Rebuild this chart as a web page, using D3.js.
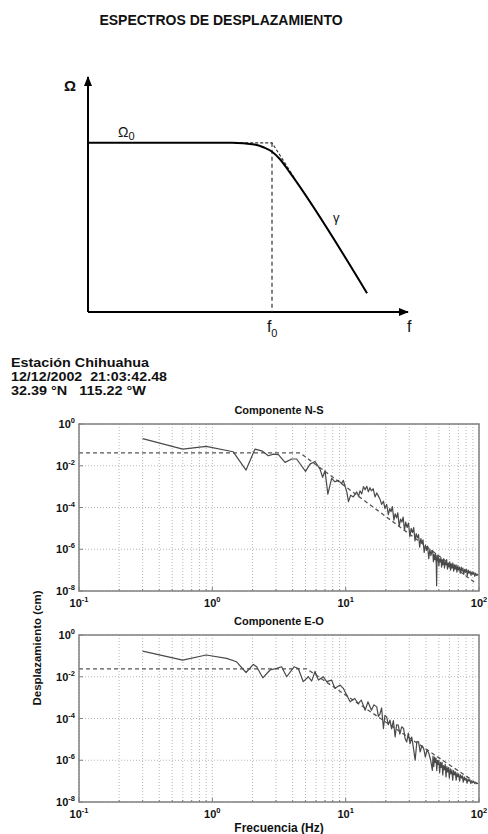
<!DOCTYPE html>
<html><head><meta charset="utf-8">
<script src="https://cdn.jsdelivr.net/npm/d3@7"></script>
<style>
body{margin:0;background:#fff}
svg{display:block}
text{font-family:"Liberation Sans",Arial,Helvetica,sans-serif;fill:#111}
</style>
</head><body>
<svg id="c" width="488" height="834"></svg>
<script>
// ---------------- DATA ----------------
const titleText = "ESPECTROS DE DESPLAZAMIENTO";
const stationLines = ["Estación Chihuahua", "12/12/2002  21:03:42.48", "32.39 °N   115.22 °W"];
const panelTitles = ["Componente N-S", "Componente E-O"];
const xTickValues = [0.1, 1, 10, 100];
const xTickExps = ["-1", "0", "1", "2"];
const yTickValues = [1, 1e-2, 1e-4, 1e-6, 1e-8];
const yTickExps = ["0", "-2", "-4", "-6", "-8"];
const xAxisLabel = "Frecuencia (Hz)";
const yAxisLabel = "Desplazamiento (cm)";

// Componente N-S : [frecuencia Hz, desplazamiento cm]
const nsSpectrum = [
[0.3,0.2],[0.6,0.063],[0.9,0.085],[1.43,0.047],[1.79,0.0062],[2.09,0.063],[2.35,0.052],[2.63,0.030],
[2.87,0.036],[3.13,0.034],[3.51,0.0145],[3.94,0.021],[4.29,0.021],[5.0,0.0054],[5.4,0.012],[5.89,0.016],
[6.42,0.0069],[6.72,0.0028],[7.0,0.0058],[7.35,4.4e-4],[7.85,0.0025],[8.32,0.0017],[8.81,0.002],[9.33,0.0014],
[9.6,0.002],[10.2,5.6e-4],[10.5,1.9e-4],[10.9,3.9e-4],[11.4,3.2e-4],[12.1,5.6e-4],[12.5,3.5e-4],[12.8,6.3e-4],
[13.2,4.5e-4],[13.6,1.0e-3],[14.0,7.1e-4],[14.4,1.05e-3],[14.8,5.6e-4],[15.2,8.9e-4],[15.6,6.3e-4],[16.1,7.9e-4],
[16.6,3.2e-4],[17.1,5.0e-4],[17.6,3.5e-4],[18.1,2.5e-4],[18.6,1.4e-4],[19.2,2.0e-4],[19.7,8.9e-5],
[20.3,1.4e-4],[20.9,4.5e-5],[21.4,8.9e-5],[21.9,6.3e-5],[22.4,1.1e-4],[23.0,2.5e-5],[23.5,5.0e-5],[24.1,3.2e-5],
[24.6,5.6e-5],[25.2,1.26e-5],[25.8,2.8e-5],[26.4,2.0e-5],[27.0,3.5e-5],[27.6,7.9e-6],[28.2,2.0e-5],[28.9,1.1e-5],
[29.6,1.8e-5],[30.3,4.0e-6],[31.0,1.0e-5],[31.7,6.3e-6],[32.4,1.1e-5],[33.1,2.5e-6],[33.8,5.6e-6],[34.5,3.5e-6],
[35.2,5.0e-6],[35.9,1.26e-6],[36.6,3.2e-6],[37.3,2.0e-6],[38.0,2.8e-6],[38.8,7.1e-7],[39.6,1.6e-6],[40.4,8.9e-7],
[41.2,1.4e-6],[42.0,3.5e-7],[42.8,1.0e-6],[43.6,5.0e-7],[44.4,8.9e-7],
[45.0,7.9e-7],[45.5,2.5e-7],[46.0,5.6e-7],[46.6,3.2e-7],[47.2,6.3e-7],[47.8,2.0e-7],[48.1,1.8e-8],[48.5,5.0e-7],
[49.0,2.8e-7],[49.5,4.5e-7],[50.0,1.6e-7],[50.6,3.5e-7],[51.2,2.5e-7],[51.8,4.0e-7],[52.4,1.4e-7],[53.0,3.2e-7],
[53.7,1.8e-7],[54.4,3.5e-7],[55.1,1.26e-7],[55.8,2.5e-7],[56.5,1.8e-7],[57.2,3.2e-7],[58.0,1.1e-7],[58.8,2.2e-7],
[59.6,1.4e-7],[60.4,2.5e-7],[61.2,1.0e-7],[62.0,2.0e-7],[62.8,1.26e-7],[63.7,2.2e-7],[64.6,8.9e-8],[65.5,1.8e-7],
[66.4,1.1e-7],[67.3,1.8e-7],[68.3,7.9e-8],[69.3,1.6e-7],[70.3,1.0e-7],[71.3,1.4e-7],[72.4,7.1e-8],[73.5,1.4e-7],
[74.6,8.9e-8],[75.7,1.26e-7],[76.9,6.3e-8],[78.1,1.1e-7],[79.3,7.9e-8],[80.5,1.1e-7],[81.8,5.6e-8],[83.1,1.0e-7],
[84.4,7.1e-8],[85.7,8.9e-8],[87.1,5.6e-8],[88.5,8.3e-8],[89.9,6.3e-8],[91.4,7.9e-8],[92.9,5.0e-8],[94.4,7.1e-8],
[96.0,5.6e-8],[97.6,6.3e-8],[98.9,5.6e-8]
];
// Modelo (línea discontinua) N-S
const nsModel = [[0.1,0.041],[4.55,0.041],[92,2.7e-8]];

// Componente E-O
const eoSpectrum = [
[0.3,0.17],[0.6,0.063],[0.9,0.11],[1.28,0.076],[1.52,0.052],[1.79,0.016],[2.03,0.039],[2.15,0.030],
[2.39,0.0089],[2.71,0.021],[3.04,0.025],[3.31,0.030],[3.61,0.010],[4.1,0.030],[4.41,0.025],[4.81,0.0058],
[5.25,0.010],[5.56,0.0062],[5.89,0.018],[6.25,0.0069],[6.8,0.010],[7.2,0.0058],[7.85,0.0069],[8.3,0.0028],
[9.1,0.004],[9.6,0.0028],[10.2,0.0013],[10.8,6.3e-4],[11.7,9.1e-4],[12.4,5.2e-4],[13.1,7.6e-4],[14.0,2.5e-4],
[14.7,6.3e-4],[15.6,2.5e-4],[16.3,4.5e-4],[17.1,3.6e-4],[17.6,1.26e-4],[18.1,1.7e-4],[18.6,3.2e-4],[19.2,3.3e-5],
[19.7,1.4e-4],[20.3,1.2e-4],[20.9,5.0e-5],[21.5,8.3e-5],[22.1,3.2e-5],[22.8,7.9e-5],[23.5,1.3e-5],[24.1,5.0e-5],
[24.8,4.8e-5],[25.5,1.8e-5],[26.3,4.0e-5],[27.2,3.3e-5],[27.9,1.1e-5],[28.7,7.6e-6],[29.5,2.0e-5],[30.4,6.3e-6],
[31.3,1.3e-5],[32.2,4.0e-6],[33.2,1.0e-6],[34.2,7.9e-6],[35.2,7.6e-6],[36.2,2.5e-6],[37.3,5.0e-6],[38.5,3.6e-6],
[39.6,1.4e-6],[40.8,3.2e-6],[42.1,2.1e-6],[43.4,1.0e-6],[44.7,3.3e-7],
[45.2,1.6e-6],[45.8,5.0e-7],[46.4,1.4e-6],[47.0,7.9e-7],[47.6,1.26e-6],[48.2,3.2e-7],[48.8,1.0e-6],[49.4,6.3e-7],
[50.0,1.0e-6],[50.7,2.5e-7],[51.4,7.9e-7],[52.1,4.5e-7],[52.8,7.9e-7],[53.5,2.0e-7],[54.2,5.6e-7],[55.0,3.5e-7],
[55.8,6.3e-7],[56.6,1.6e-7],[57.4,5.0e-7],[58.2,2.8e-7],[59.0,4.5e-7],[59.9,1.4e-7],[60.8,4.0e-7],[61.7,2.2e-7],
[62.6,3.5e-7],[63.5,1.1e-7],[64.4,3.2e-7],[65.4,2.0e-7],[66.4,2.8e-7],[67.4,1.1e-7],[68.4,2.5e-7],[69.4,1.6e-7],
[70.5,2.2e-7],[71.6,1.0e-7],[72.7,2.0e-7],[73.8,1.4e-7],[75.0,1.8e-7],[76.2,8.9e-8],[77.4,1.6e-7],[78.7,1.1e-7],
[80.0,1.4e-7],[81.3,7.9e-8],[82.6,1.26e-7],[84.0,1.0e-7],[85.4,1.2e-7],[86.8,7.6e-8],[88.3,1.05e-7],[89.8,8.3e-8],
[91.3,1.0e-7],[92.9,7.6e-8],[94.5,8.9e-8],[96.1,7.6e-8],[97.7,7.9e-8],[98.9,7.6e-8]
];
const eoModel = [[0.1,0.024],[5.1,0.024],[85,1.35e-7]];

// Esquema (unidades arbitrarias log-log)
const schemeCurve = [[0,7.2],[4.5,7.2],[5.2,7.13],[5.5,7.0],[5.75,6.82],[6.0,6.5],[6.3,5.95],[8.72,0.8]];
const schemeAsymptote = [[4.6,7.2],[5.75,7.2],[6.45,5.7]];
const schemeCorner = [[5.75,7.2],[5.75,0]];
const schemeXAxis = [[0,0],[10,0]];
const schemeYAxis = [[0,0],[0,10]];

// ---------------- DRAW ----------------
const svg = d3.select("#c");
const defs = svg.append("defs");
defs.append("marker").attr("id","arr").attr("viewBox","0 0 10 8")
  .attr("refX",9).attr("refY",4).attr("markerWidth",10).attr("markerHeight",8)
  .attr("markerUnits","userSpaceOnUse").attr("orient","auto")
  .append("path").attr("d","M0,0L10,4L0,8Z").attr("fill","#000");

// Title
svg.append("text").attr("x",221).attr("y",25).attr("text-anchor","middle")
  .style("font-weight","bold").style("font-size","14px").text(titleText);

// Scheme
const sx = d3.scaleLinear().domain([0,10]).range([88,408]);
const sy = d3.scaleLinear().domain([0,10]).range([312,77]);
const sline = d3.line().x(d=>sx(d[0])).y(d=>sy(d[1]));
const scheme = svg.append("g");
scheme.append("path").attr("d",sline(schemeXAxis)).attr("stroke","#000").attr("stroke-width",2).attr("fill","none").attr("marker-end","url(#arr)");
scheme.append("path").attr("d",sline(schemeYAxis)).attr("stroke","#000").attr("stroke-width",2).attr("fill","none").attr("marker-end","url(#arr)");
scheme.append("path").attr("d",sline(schemeCorner)).attr("stroke","#333").attr("stroke-width",1.2).attr("stroke-dasharray","4,3").attr("fill","none");
scheme.append("path").attr("d",sline(schemeAsymptote)).attr("stroke","#333").attr("stroke-width",1.2).attr("stroke-dasharray","3,2").attr("fill","none");
scheme.append("path").attr("d",d3.line().x(d=>sx(d[0])).y(d=>sy(d[1])).curve(d3.curveMonotoneX)(schemeCurve))
  .attr("stroke","#000").attr("stroke-width",2).attr("fill","none");
scheme.append("text").attr("x",sx(-0.56)).attr("y",sy(9.4)).attr("text-anchor","middle").style("font-size","15px").style("font-weight","bold").text("Ω");
const o0 = scheme.append("text").attr("x",sx(0.94)).attr("y",sy(7.45)).style("font-size","14px");
o0.append("tspan").text("Ω"); o0.append("tspan").attr("dy",3).style("font-size","11px").text("0");
scheme.append("text").attr("x",sx(7.66)).attr("y",sy(3.85)).style("font-size","13px").text("γ");
const f0 = scheme.append("text").attr("x",sx(5.59)).attr("y",sy(-0.85)).style("font-size","16px");
f0.append("tspan").text("f"); f0.append("tspan").attr("dy",5).style("font-size","11px").text("0");
scheme.append("text").attr("x",sx(9.97)).attr("y",sy(-0.85)).style("font-size","16px").text("f");

// Station info
const stWidths = [138,156,135];
stationLines.forEach((s,i)=>{
  svg.append("text").attr("x",11).attr("y",367+i*13.8).style("font-weight","bold").style("font-size","12px")
    .style("white-space","pre").attr("xml:space","preserve")
    .attr("textLength",stWidths[i]).attr("lengthAdjust","spacingAndGlyphs").text(s);
});

// Panels
const x = d3.scaleLog().domain([0.1,100]).range([79,479]);
function supText(g, px, py, exp, anchor){
  const t = g.append("text").attr("x",px).attr("y",py).attr("text-anchor",anchor)
    .style("font-weight","bold").style("font-size","11px");
  t.append("tspan").text("10");
  t.append("tspan").attr("dy",-5).style("font-size","7.5px").text(exp);
}
function panel(top, bottom, title, spectrum, model){
  const y = d3.scaleLog().domain([1e-8,1]).range([bottom,top]);
  const g = svg.append("g");
  g.append("g").selectAll("line").data(x.ticks()).join("line")
    .attr("x1",d=>x(d)).attr("x2",d=>x(d)).attr("y1",top).attr("y2",bottom)
    .attr("stroke","#b8b8b8").attr("stroke-width",1).attr("stroke-dasharray","1,2");
  g.append("g").selectAll("line").data(yTickValues).join("line")
    .attr("x1",x.range()[0]).attr("x2",x.range()[1]).attr("y1",d=>y(d)).attr("y2",d=>y(d))
    .attr("stroke","#b8b8b8").attr("stroke-width",1).attr("stroke-dasharray","1,2");
  const line = d3.line().x(d=>x(d[0])).y(d=>y(d[1]));
  g.append("path").attr("d",line(model)).attr("fill","none").attr("stroke","#555")
    .attr("stroke-width",1.3).attr("stroke-dasharray","4,3");
  g.append("path").attr("d",line(spectrum)).attr("fill","none").attr("stroke","#4a4a4a")
    .attr("stroke-width",1.2).attr("stroke-linejoin","round");
  g.append("rect").attr("x",x.range()[0]).attr("y",top).attr("width",x.range()[1]-x.range()[0])
    .attr("height",bottom-top).attr("fill","none").attr("stroke","#808080").attr("stroke-width",1.5);
  g.append("g").selectAll("line").data(x.ticks()).join("line")
    .attr("x1",d=>x(d)).attr("x2",d=>x(d)).attr("y1",bottom).attr("y2",d=>xTickValues.includes(d)?bottom-4:bottom-2)
    .attr("stroke","#808080");
  g.append("g").selectAll("line").data(yTickValues).join("line")
    .attr("x1",x.range()[0]).attr("x2",x.range()[0]+4).attr("y1",d=>y(d)).attr("y2",d=>y(d)).attr("stroke","#808080");
  xTickValues.forEach((v,i)=>supText(g, x(v), bottom+16, xTickExps[i], "middle"));
  yTickValues.forEach((v,i)=>supText(g, 75, y(v)+4, yTickExps[i], "end"));
  g.append("text").attr("x",279).attr("y",top-10).attr("text-anchor","middle")
    .style("font-weight","bold").style("font-size","11px").text(title);
}
panel(424, 591, panelTitles[0], nsSpectrum, nsModel);
panel(635, 802, panelTitles[1], eoSpectrum, eoModel);

svg.append("text").attr("x",279).attr("y",832).attr("text-anchor","middle")
  .style("font-weight","bold").style("font-size","12px").text(xAxisLabel);
svg.append("text").attr("transform","translate(41,648) rotate(-90)").attr("text-anchor","middle")
  .style("font-weight","bold").style("font-size","11.5px").text(yAxisLabel);
</script>
</body></html>
